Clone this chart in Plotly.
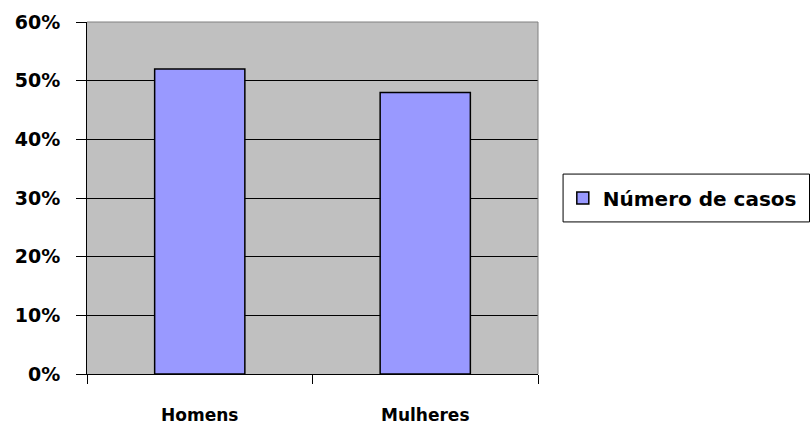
import plotly.graph_objects as go

categories = ["Homens", "Mulheres"]
values = [0.52, 0.48]
series_name = "Número de casos"
y_ticks = [0, 0.1, 0.2, 0.3, 0.4, 0.5, 0.6]
y_tick_labels = ["0%", "10%", "20%", "30%", "40%", "50%", "60%"]

FONT = "DejaVu Sans"

fig = go.Figure()
fig.add_trace(go.Bar(
    x=categories, y=values, name=series_name,
    marker=dict(color="#9999FF", line=dict(color="black", width=1.5)),
    showlegend=True,
))

fig.update_layout(
    width=811, height=427,
    margin=dict(l=87, r=273, t=22, b=53, autoexpand=False),
    paper_bgcolor="white",
    plot_bgcolor="#C0C0C0",
    bargap=0.6,
    font=dict(family=FONT, color="black"),
    showlegend=True,
    legend=dict(
        x=1.055, xanchor="left", y=0.5, yanchor="middle",
        borderwidth=0, bgcolor="rgba(0,0,0,0)",
        font=dict(family=FONT, size=20, color="black", weight="bold"),
    ),
    xaxis=dict(
        automargin=False,
        showline=True, linecolor="black", linewidth=1,
        ticks="outside", tickson="boundaries", ticklen=9, tickcolor="black",
        tickfont=dict(family=FONT, size=17, color="black", weight="bold"),
        ticklabelstandoff=26,
        showgrid=False, mirror=False,
    ),
    yaxis=dict(
        automargin=False,
        range=[0, 0.6], tickvals=y_ticks, ticktext=y_tick_labels,
        showline=True, linecolor="black", linewidth=1,
        ticks="outside", ticklen=10, tickcolor="black",
        tickfont=dict(family=FONT, size=19, color="black", weight="bold"),
        ticklabelstandoff=12,
        showgrid=True, gridcolor="black", gridwidth=1,
        zeroline=False,
    ),
    shapes=[
        dict(type="line", xref="paper", yref="paper", x0=0, x1=1, y0=1, y1=1,
             line=dict(color="#808080", width=1)),
        dict(type="line", xref="paper", yref="paper", x0=1, x1=1, y0=0, y1=1,
             line=dict(color="#808080", width=1)),
        dict(type="rect", xref="paper", yref="paper",
             x0=1.0556, x1=1.602, y0=0.432, y1=0.568,
             line=dict(color="black", width=1), fillcolor="white", layer="below"),
    ],
)

fig.write_html("out.html")
